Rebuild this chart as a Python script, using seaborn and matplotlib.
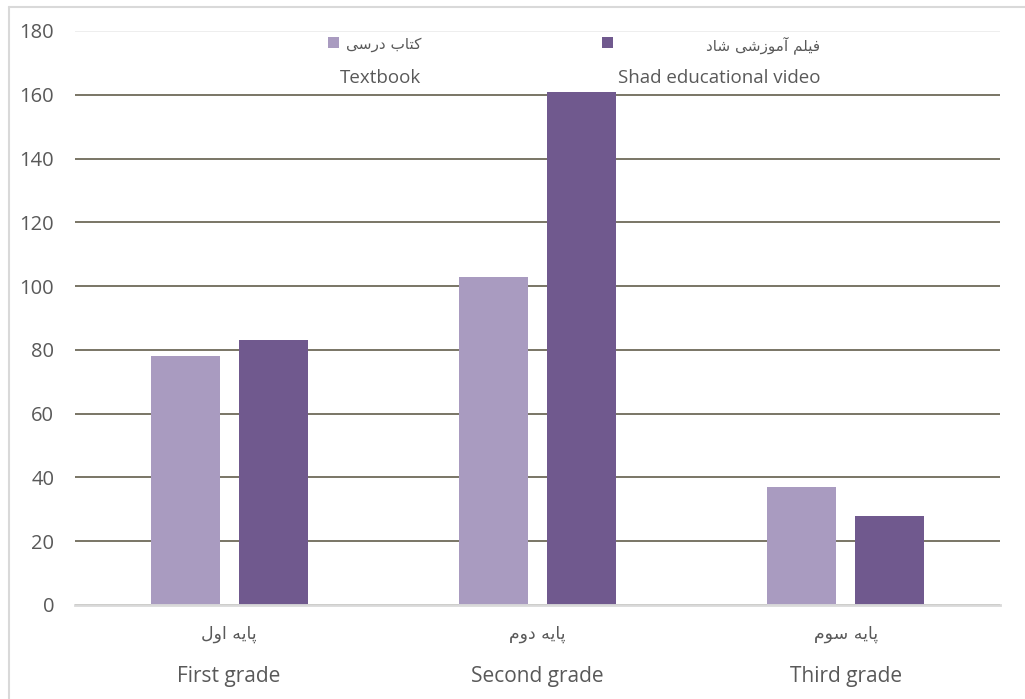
import matplotlib
matplotlib.use("Agg")
import matplotlib.pyplot as plt
from matplotlib.patches import Rectangle
from matplotlib.lines import Line2D
import seaborn as sns
import pandas as pd

# ---------------- data ----------------
grades_en = ["First grade", "Second grade", "Third grade"]
grades_fa = ["پایه اول", "پایه دوم", "پایه سوم"]
series_en = ["Textbook", "Shad educational video"]
series_fa = ["کتاب درسی", "فیلم آموزشی شاد"]
textbook = [78, 103, 37]
shad_video = [83, 161, 28]
y_ticks = [0, 20, 40, 60, 80, 100, 120, 140, 160, 180]

colors = ["#A99BC0", "#70598E"]

# ------------- simple Persian shaping (presentation forms, visual order) -------------
FORMS = {
    '\u0627': ('\uFE8D', '\uFE8E', None, None),
    '\u0622': ('\uFE81', '\uFE82', None, None),
    '\u0628': ('\uFE8F', '\uFE90', '\uFE91', '\uFE92'),
    '\u067E': ('\uFB56', '\uFB57', '\uFB58', '\uFB59'),
    '\u062A': ('\uFE95', '\uFE96', '\uFE97', '\uFE98'),
    '\u062F': ('\uFEA9', '\uFEAA', None, None),
    '\u0631': ('\uFEAD', '\uFEAE', None, None),
    '\u0632': ('\uFEAF', '\uFEB0', None, None),
    '\u0633': ('\uFEB1', '\uFEB2', '\uFEB3', '\uFEB4'),
    '\u0634': ('\uFEB5', '\uFEB6', '\uFEB7', '\uFEB8'),
    '\u0641': ('\uFED1', '\uFED2', '\uFED3', '\uFED4'),
    '\u06A9': ('\uFB8E', '\uFB8F', '\uFB90', '\uFB91'),
    '\u0644': ('\uFEDD', '\uFEDE', '\uFEDF', '\uFEE0'),
    '\u0645': ('\uFEE1', '\uFEE2', '\uFEE3', '\uFEE4'),
    '\u0647': ('\uFEE9', '\uFEEA', '\uFEEB', '\uFEEC'),
    '\u0648': ('\uFEED', '\uFEEE', None, None),
    '\u06CC': ('\uFBFC', '\uFBFD', '\uFBFE', '\uFBFF'),
}


def shape(s):
    out = []
    for i, c in enumerate(s):
        if c not in FORMS:
            out.append(c)
            continue
        prev = s[i - 1] if i > 0 else None
        nxt = s[i + 1] if i + 1 < len(s) else None
        jp = prev in FORMS and FORMS[prev][2] is not None
        jn = nxt in FORMS and FORMS[c][2] is not None
        iso, fin, ini, med = FORMS[c]
        if jp and jn:
            out.append(med)
        elif jp:
            out.append(fin)
        elif jn:
            out.append(ini)
        else:
            out.append(iso)
    return "".join(reversed(out))


# ---------------- figure ----------------
sns.set_theme(style="white")
plt.rcParams["font.family"] = ["Open Sans", "DejaVu Sans"]

W, H = 1025, 699
fig = plt.figure(figsize=(W / 100, H / 100), dpi=100)
ax = fig.add_axes([75 / W, 1 - 605 / H, 925 / W, 574 / H])

df = pd.DataFrame({
    "grade": grades_en * 2,
    "series": [series_en[0]] * 3 + [series_en[1]] * 3,
    "value": textbook + shad_video,
})

sns.barplot(data=df, x="grade", y="value", hue="series", order=grades_en,
            hue_order=series_en, palette=colors, width=0.57, gap=0.214,
            errorbar=None, legend=False, linewidth=0, saturation=1, ax=ax,
            zorder=3)

ax.set_ylim(0, 180)
ax.set_xlim(-0.5, 2.5)
ax.set_yticks(y_ticks)
ax.set_xticks(range(len(grades_en)))
ax.set_xticklabels([])
ax.set_xlabel("")
ax.set_ylabel("")
ax.tick_params(axis="y", length=0, pad=15, labelsize=14.5, labelcolor="#595959")
ax.tick_params(axis="x", length=0)

for s in ["top", "right", "left"]:
    ax.spines[s].set_visible(False)
ax.spines["bottom"].set_color("#d9d9d9")
ax.spines["bottom"].set_linewidth(2)
ax.spines["bottom"].set_zorder(4)

ax.grid(axis="y", color="#625d4b", linewidth=1.2)
ax.grid(axis="x", visible=False)
ax.set_axisbelow(True)
gl = ax.yaxis.get_gridlines()
gl[-1].set_color("#ebebeb")

# category labels: Persian above English
for i in range(len(grades_en)):
    ax.text(i, -0.05, shape(grades_fa[i]), transform=ax.get_xaxis_transform(),
            ha="center", va="center", fontsize=12.5, color="#595959",
            family=["DejaVu Sans"])
    ax.text(i, -0.125, grades_en[i], transform=ax.get_xaxis_transform(),
            ha="center", va="center", fontsize=15, color="#595959")

# legend (manual, two-line labels, right aligned)
sq_x = [328, 602]
txt_r = [421, 820]
for k in range(2):
    fig.patches.append(Rectangle((sq_x[k] / W, 1 - 48 / H), 11 / W, 11 / H,
                                 transform=fig.transFigure, facecolor=colors[k],
                                 edgecolor="none"))
    fig.text(txt_r[k] / W, 1 - 45 / H, shape(series_fa[k]), ha="right",
             va="center", fontsize=11, color="#595959", family=["DejaVu Sans"])
    fig.text(txt_r[k] / W, 1 - 78 / H, series_en[k], ha="right", va="center",
             fontsize=13.5, color="#595959")

# outer chart border (top and left visible)
fig.lines.append(Line2D([9 / W, 1], [1 - 7 / H, 1 - 7 / H], transform=fig.transFigure,
                        color="#d9d9d9", linewidth=1.5))
fig.lines.append(Line2D([9 / W, 9 / W], [0, 1 - 7 / H], transform=fig.transFigure,
                        color="#d9d9d9", linewidth=1.5))

fig.savefig("out.png", dpi=100, facecolor="white")
